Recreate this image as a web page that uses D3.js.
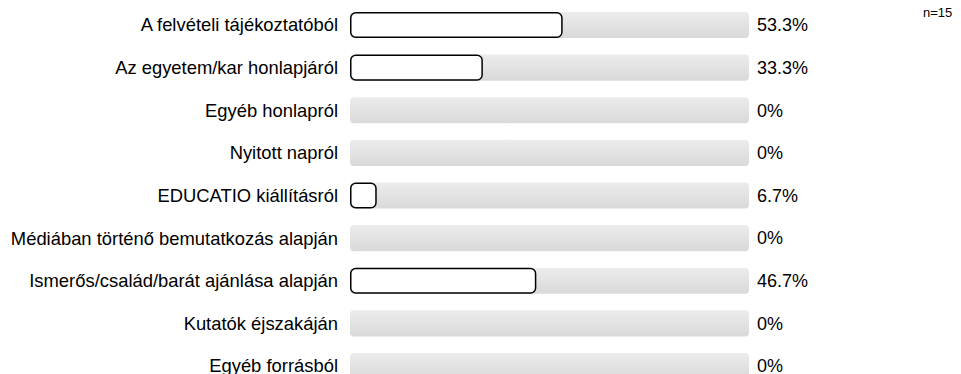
<!DOCTYPE html>
<html><head><meta charset="utf-8">
<script src="https://cdn.jsdelivr.net/npm/d3@7"></script>
<style>body{margin:0;background:#fff}svg{display:block}text{font-family:"Liberation Sans",Arial,sans-serif}</style>
</head><body>
<script>
const categories = ["A felvételi tájékoztatóból","Az egyetem/kar honlapjáról","Egyéb honlapról","Nyitott napról","EDUCATIO kiállításról","Médiában történő bemutatkozás alapján","Ismerős/család/barát ajánlása alapján","Kutatók éjszakáján","Egyéb forrásból"];
const values = [53.3,33.3,0,0,6.7,0,46.7,0,0];
const valueLabels = ["53.3%","33.3%","0%","0%","6.7%","0%","46.7%","0%","0%"];
const nLabel = "n=15";

const W=961,H=374;
const svg=d3.select("body").append("svg").attr("width",W).attr("height",H);
const defs=svg.append("defs");
const g=defs.append("linearGradient").attr("id","bg").attr("x1",0).attr("y1",0).attr("x2",0).attr("y2",1);
g.append("stop").attr("offset","0%").attr("stop-color","#ececec");
g.append("stop").attr("offset","100%").attr("stop-color","#d9d9d9");

const x=d3.scaleLinear().domain([0,100]).range([350,749]);
const y=d3.scaleBand().domain(categories).range([12,379]).paddingInner(0.39).paddingOuter(0);
const bh=y.bandwidth();

const rows=svg.selectAll("g.row").data(categories).join("g").attr("class","row")
  .attr("transform",d=>`translate(0,${y(d)})`);
rows.append("rect").attr("x",x(0)).attr("width",x(100)-x(0)).attr("height",bh).attr("rx",4).attr("fill","url(#bg)");
rows.append("text").attr("x",338).attr("y",bh/2).attr("dy","0.35em").attr("text-anchor","end")
  .attr("font-size",18.4).attr("fill","#000").text(d=>d);
rows.filter((d,i)=>values[i]>0).append("rect")
  .attr("x",x(0)+0.75).attr("y",0.75)
  .attr("width",(d)=>x(values[categories.indexOf(d)])-x(0)-1.5).attr("height",bh-1.5)
  .attr("rx",5).attr("fill","#fff").attr("stroke","#000").attr("stroke-width",1.5);
rows.append("text").attr("x",757).attr("y",bh/2).attr("dy","0.35em")
  .attr("font-size",18).attr("fill","#000").text((d,i)=>valueLabels[i]);
svg.append("text").attr("x",923).attr("y",17).attr("font-size",13).text(nLabel);
</script>
</body></html>
